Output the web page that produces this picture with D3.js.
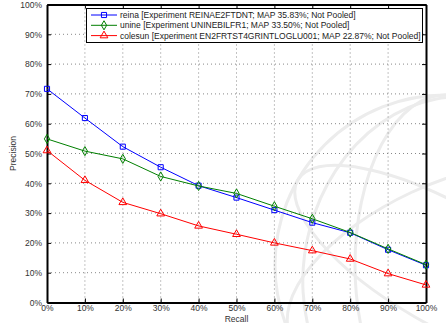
<!DOCTYPE html>
<html>
<head>
<meta charset="utf-8">
<script src="https://cdn.jsdelivr.net/npm/d3@7"></script>
<style>
  body { margin: 0; background: #fff; }
  svg { display: block; font-family: "Liberation Sans", Arial, sans-serif; }
</style>
</head>
<body>
<svg id="chart"></svg>
<script>
var width = 446, height = 323;

// recall points and precision values (percent)
var recall = [0, 10, 20, 30, 40, 50, 60, 70, 80, 90, 100];
var reina = [71.7, 61.9, 52.3, 45.4, 39.2, 35.2, 31.0, 26.8, 23.4, 17.7, 12.5];
var unine = [54.9, 50.8, 48.2, 42.3, 39.1, 36.6, 32.3, 28.1, 23.5, 18.0, 12.7];
var colesun = [51.0, 41.0, 33.6, 29.8, 25.7, 22.9, 20.0, 17.4, 14.6, 9.7, 5.9];
var yTicks = [0, 10, 20, 30, 40, 50, 60, 70, 80, 90, 100];

var series = [
  { name: 'reina [Experiment REINAE2FTDNT; MAP 35.83%; Not Pooled]', values: reina, color: '#0000ff', symbol: 'square' },
  { name: 'unine [Experiment UNINEBILFR1; MAP 33.50%; Not Pooled]', values: unine, color: '#007f00', symbol: 'diamond' },
  { name: 'colesun [Experiment EN2FRTST4GRINTLOGLU001; MAP 22.87%; Not Pooled]', values: colesun, color: '#ff0000', symbol: 'triangle' }
];

// plot box (note: "top" is reserved on window, so use p* names)
var pLeft = 47, pRight = 426, pTop = 4.5, pBottom = 302.5;
var fontSize = 8.5;

var svg = d3.select('#chart')
    .attr('width', width)
    .attr('height', height);

// faint watermark globe in the lower right
var wm = svg.append('g')
    .attr('fill', 'none')
    .attr('stroke', '#ececec')
    .attr('stroke-width', 3);
wm.append('circle').attr('cx', 445).attr('cy', 265).attr('r', 170);
wm.append('ellipse').attr('cx', 445).attr('cy', 265).attr('rx', 90).attr('ry', 170);
wm.append('ellipse').attr('cx', 445).attr('cy', 265).attr('rx', 170).attr('ry', 80)
    .attr('transform', 'rotate(-25 445 265)');
wm.append('ellipse').attr('cx', 445).attr('cy', 265).attr('rx', 170).attr('ry', 60)
    .attr('transform', 'rotate(30 445 265)');
wm.append('ellipse').attr('cx', 445).attr('cy', 265).attr('rx', 140).attr('ry', 170)
    .attr('transform', 'rotate(15 445 265)');

var x = d3.scaleLinear().domain([0, 100]).range([pLeft, pRight]);
var y = d3.scaleLinear().domain([0, 100]).range([pBottom, pTop]);

var g = svg.append('g');

// dotted grid
g.selectAll('.vgrid')
    .data(recall.slice(1, -1))
    .enter().append('line')
    .attr('x1', function (d) { return x(d); })
    .attr('x2', function (d) { return x(d); })
    .attr('y1', pTop).attr('y2', pBottom)
    .attr('stroke', '#888')
    .attr('stroke-dasharray', '1,3');
g.selectAll('.hgrid')
    .data(yTicks.slice(1, -1))
    .enter().append('line')
    .attr('y1', function (d) { return y(d); })
    .attr('y2', function (d) { return y(d); })
    .attr('x1', pLeft).attr('x2', pRight)
    .attr('stroke', '#888')
    .attr('stroke-dasharray', '1,3');

// axes
var fmt = function (d) { return d + '%'; };
g.append('g')
    .attr('transform', 'translate(0,' + pBottom + ')')
    .call(d3.axisBottom(x).tickValues(recall).tickFormat(fmt).tickSizeInner(-4).tickSizeOuter(0).tickPadding(2));
g.append('g')
    .attr('transform', 'translate(' + pLeft + ',0)')
    .call(d3.axisLeft(y).tickValues(yTicks).tickFormat(fmt).tickSizeInner(-4).tickSizeOuter(0).tickPadding(5));
g.append('g')
    .attr('transform', 'translate(0,' + pTop + ')')
    .call(d3.axisTop(x).tickValues(recall).tickFormat('').tickSizeInner(-4).tickSizeOuter(0));
g.append('g')
    .attr('transform', 'translate(' + pRight + ',0)')
    .call(d3.axisRight(y).tickValues(yTicks).tickFormat('').tickSizeInner(-4).tickSizeOuter(0));

g.selectAll('.domain').attr('stroke', '#000').attr('stroke-width', 2);
g.selectAll('.tick line').attr('stroke', '#000');
g.selectAll('.tick text').attr('font-size', fontSize).attr('fill', '#333')
    .attr('font-family', '"Liberation Sans", Arial, sans-serif');

// axis titles
svg.append('text')
    .attr('x', (pLeft + pRight) / 2)
    .attr('y', 322)
    .attr('text-anchor', 'middle')
    .attr('font-size', fontSize)
    .attr('fill', '#333')
    .text('Recall');
svg.append('text')
    .attr('transform', 'translate(16,' + ((pTop + pBottom) / 2) + ') rotate(-90)')
    .attr('text-anchor', 'middle')
    .attr('font-size', fontSize)
    .attr('fill', '#333')
    .text('Precision');

var symbols = {
  square: d3.symbol().type(d3.symbolSquare).size(26),
  diamond: d3.symbol().type(d3.symbolDiamond).size(24),
  triangle: d3.symbol().type(d3.symbolTriangle).size(26)
};

var line = d3.line()
    .x(function (d, i) { return x(recall[i]); })
    .y(function (d) { return y(d); });

series.forEach(function (s) {
  g.append('path')
      .datum(s.values)
      .attr('d', line)
      .attr('fill', 'none')
      .attr('stroke', s.color)
      .attr('stroke-width', 1);
  g.selectAll(null)
      .data(s.values)
      .enter().append('path')
      .attr('d', symbols[s.symbol])
      .attr('transform', function (d, i) { return 'translate(' + x(recall[i]) + ',' + y(d) + ')'; })
      .attr('fill', 'none')
      .attr('stroke', s.color)
      .attr('stroke-width', 1);
});

// legend
var legend = svg.append('g');
legend.append('rect')
    .attr('x', 86.5).attr('y', 8.5)
    .attr('width', 336).attr('height', 34)
    .attr('fill', '#fff')
    .attr('stroke', '#000')
    .attr('stroke-width', 1);
series.forEach(function (s, i) {
  var ly = 15 + i * 10.3;
  legend.append('line')
      .attr('x1', 91).attr('x2', 117)
      .attr('y1', ly).attr('y2', ly)
      .attr('stroke', s.color);
  legend.append('path')
      .attr('d', symbols[s.symbol])
      .attr('transform', 'translate(104,' + ly + ')')
      .attr('fill', 'none')
      .attr('stroke', s.color);
  legend.append('text')
      .attr('x', 120).attr('y', ly + 3)
      .attr('font-size', fontSize)
      .attr('fill', '#222')
      .text(s.name);
});
</script>
</body>
</html>
